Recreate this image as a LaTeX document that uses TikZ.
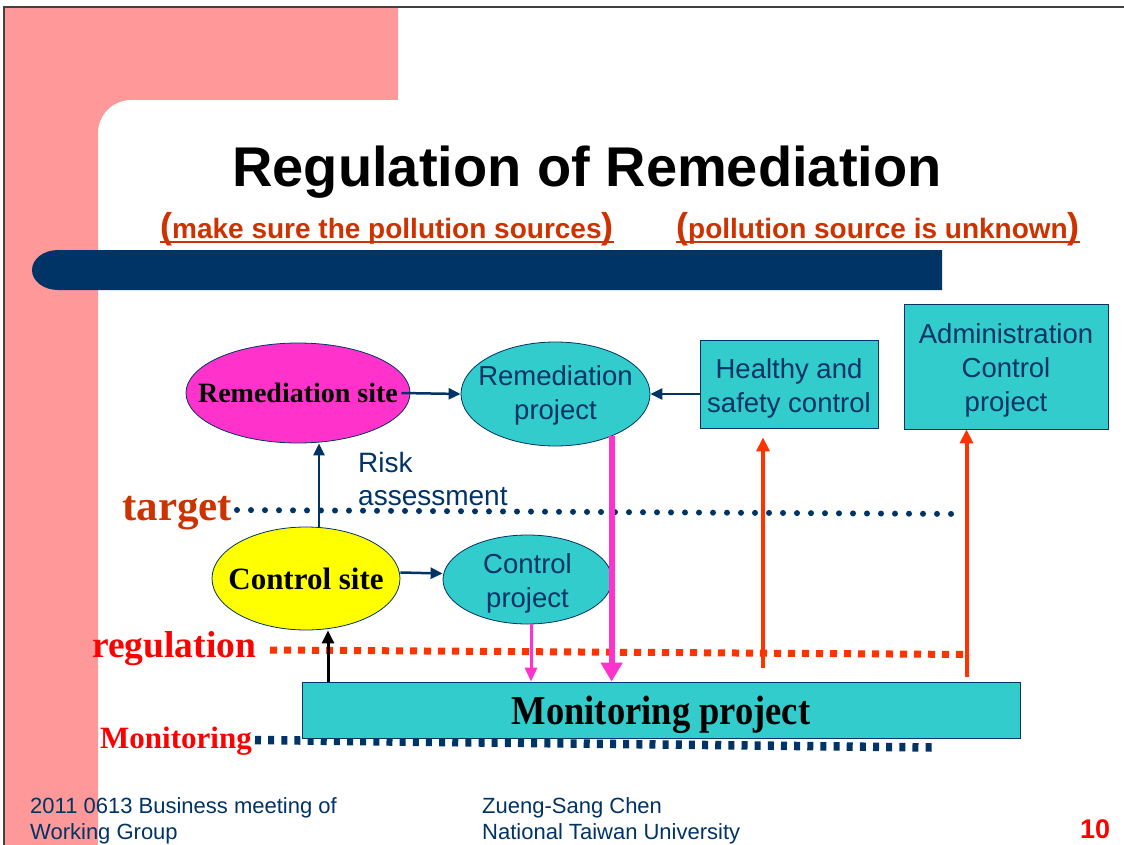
\documentclass[tikz,border=0pt]{standalone}
\usepackage{fontspec}
\setmainfont{Liberation Serif}
\newfontfamily\arialf{Liberation Sans}
\newfontfamily\timesf{Liberation Serif}
\usetikzlibrary{shapes.geometric,arrows.meta,calc}
\definecolor{pinkbg}{HTML}{FF9999}
\definecolor{navy}{HTML}{003366}
\definecolor{tealf}{HTML}{33CCCC}
\definecolor{magf}{HTML}{FF33CC}
\definecolor{yelf}{HTML}{FFFF00}
\definecolor{rust}{HTML}{CC3300}
\definecolor{redor}{HTML}{FF3300}
\definecolor{brred}{HTML}{FF0000}
% text of zero size, so that a shape keeps its given size; #1 moves it up or down
\newcommand\zbox[2][0pt]{\raisebox{#1}[0pt][0pt]{\makebox[0pt]{\begin{tabular}{@{}c@{}}#2\end{tabular}}}}
\begin{document}
\begin{tikzpicture}[x=1pt,y=-1pt,
  elli/.style={ellipse, draw=navy, line width=0.8pt, inner sep=0pt},
  boxn/.style={rectangle, draw=navy, line width=0.8pt, fill=tealf, inner sep=0pt},
  sanstext/.style={text=navy, font={\arialf\fontsize{27.5}{34}\selectfont}},
  lbl/.style={inner sep=0pt, anchor=base west},
  navyarrow/.style={draw=navy, line width=2.5pt, -{Triangle[length=12pt,width=11pt]}},
  orarrow/.style={draw=redor, line width=4pt, -{Triangle[length=14pt,width=13pt]}},
  foot/.style={lbl, text=navy, font={\arialf\fontsize{22}{24}\selectfont}},
]
\useasboundingbox (0,0) rectangle (1124,845);
% slide background and frame
\fill[white] (0,0) rectangle (1124,845);
\fill[pinkbg] (5,7) -- (398,7) -- (398,100) -- (131,100)
  arc[start angle=270, end angle=180, radius=33] -- (98,845) -- (5,845) -- cycle;
\draw[black!75, line width=1.5pt] (4,845) -- (4,7) -- (1124,7);
% title bar
\fill[navy] (942,250) -- (58,250) arc[start angle=270, end angle=90, x radius=26, y radius=20] -- (942,290) -- cycle;

% title and subtitles
\node[anchor=base, inner sep=0pt, font={\arialf\bfseries\fontsize{56}{60}\selectfont}] (title) at (587,187) {Regulation of Remediation};
\node[lbl, text=rust, font={\arialf\bfseries\fontsize{28}{30}\selectfont}] (sub1) at (160,238)
  {{\fontsize{36}{36}\selectfont(}make sure the pollution sources{\fontsize{36}{36}\selectfont)}};
\node[lbl, text=rust, font={\arialf\bfseries\fontsize{28}{30}\selectfont}] (sub2) at (676,238)
  {{\fontsize{36}{36}\selectfont(}pollution source is unknown{\fontsize{36}{36}\selectfont)}};
\draw[rust, line width=2pt] (sub1.west |- 0,241.5) -- (sub1.east |- 0,241.5);
\draw[rust, line width=2pt] (sub2.west |- 0,241.5) -- (sub2.east |- 0,241.5);

% level lines
\draw[navy, line width=6pt, line cap=round, dash pattern=on 0pt off 14pt] (237,510) -- (962,514);
\draw[redor, line width=7pt, dash pattern=on 7pt off 7pt] (270,650) -- (970,654.5);
\draw[navy, line width=8.5pt, dash pattern=on 6pt off 7.15pt] (255,740) -- (932,747.5);

% level labels
\node[lbl, text=rust, font={\timesf\bfseries\fontsize{43}{46}\selectfont}] (ltarget) at (122,520) {target};
\node[lbl, text=brred, font={\timesf\bfseries\fontsize{37.5}{40}\selectfont}] (lreg) at (92,657) {regulation};
\node[lbl, text=brred, font={\timesf\bfseries\fontsize{31}{34}\selectfont}] (lmon) at (100,748) {Monitoring};

% diagram nodes
\node[elli, fill=magf, minimum width=224pt, minimum height=100pt, font={\timesf\bfseries\fontsize{28}{30}\selectfont}] (rsite) at (298,393) {\zbox[-10pt]{Remediation site}};
\node[elli, fill=tealf, minimum width=189pt, minimum height=104pt, sanstext] (rproj) at (555.5,394) {\zbox[-8pt]{Remediation\\project}};
\node[boxn, minimum width=178pt, minimum height=88pt, sanstext] (hbox) at (789,384) {\zbox[-11.4pt]{Healthy and\\safety control}};
\node[boxn, minimum width=204pt, minimum height=125pt, sanstext] (abox) at (1006,366.5) {\zbox[-10.9pt]{Administration\\Control\\project}};
\node[elli, fill=yelf, minimum width=188pt, minimum height=103pt, font={\timesf\bfseries\fontsize{31}{34}\selectfont}] (csite) at (306,578.5) {\zbox[-10.75pt]{Control site}};
\node[elli, fill=tealf, minimum width=169pt, minimum height=89pt, sanstext] (cproj) at (527.5,579.5) {\zbox[-10.9pt]{Control\\project}};
\node[boxn, minimum width=718pt, minimum height=56pt, font={\timesf\bfseries\fontsize{41}{44}\selectfont}] (mon) at (661,710)
  {\raisebox{-14.5pt}[0pt][0pt]{\makebox[0pt]{\scalebox{0.89}[1]{Monitoring project}}}};

\node[lbl, text=navy, font={\arialf\fontsize{28}{30}\selectfont}] (risk1) at (358,472) {Risk};
\node[lbl, text=navy, font={\arialf\fontsize{28}{30}\selectfont}] (risk2) at (358,505) {assessment};

% connectors
\draw[navyarrow] ([xshift=-9pt]rsite.east) -- (rproj.west);
\draw[navyarrow] (hbox.west |- rproj.east) -- (rproj.east);
\draw[navyarrow] (319,0 |- csite.north) -- (319,0 |- rsite.south);
\draw[navyarrow] ([yshift=6pt]csite.east) -- ([yshift=6pt]cproj.west);
\draw[black, line width=3pt, -{Triangle[length=13pt,width=12pt]}] (328,0 |- mon.north) -- (328,0 |- csite.south);
\draw[magf, line width=3pt, -{Triangle[length=14pt,width=12pt]}] (531,0 |- cproj.south) -- (531,0 |- mon.north);
\draw[magf, line width=6pt, -{Triangle[length=19pt,width=21pt]}] (rproj.-37) -- (rproj.-37 |- mon.north);
\coordinate (hfoot) at (763,668);
\coordinate (afoot) at (966.5,677);
\draw[orarrow, shorten >=9pt] (hfoot) -- (hfoot |- hbox.south);
\draw[orarrow] (afoot) -- (afoot |- abox.south);

% footer
\node[foot] (f1) at (30,813) {2011 0613 Business meeting of};
\node[foot] (f2) at (30,839) {Working Group};
\node[foot] (f3) at (482,813) {Zueng-Sang Chen};
\node[foot] (f4) at (482,839) {National Taiwan University};
\node[lbl, text=brred, font={\arialf\bfseries\fontsize{27}{30}\selectfont}] (pnum) at (1080,838) {10};
\end{tikzpicture}
\end{document}
